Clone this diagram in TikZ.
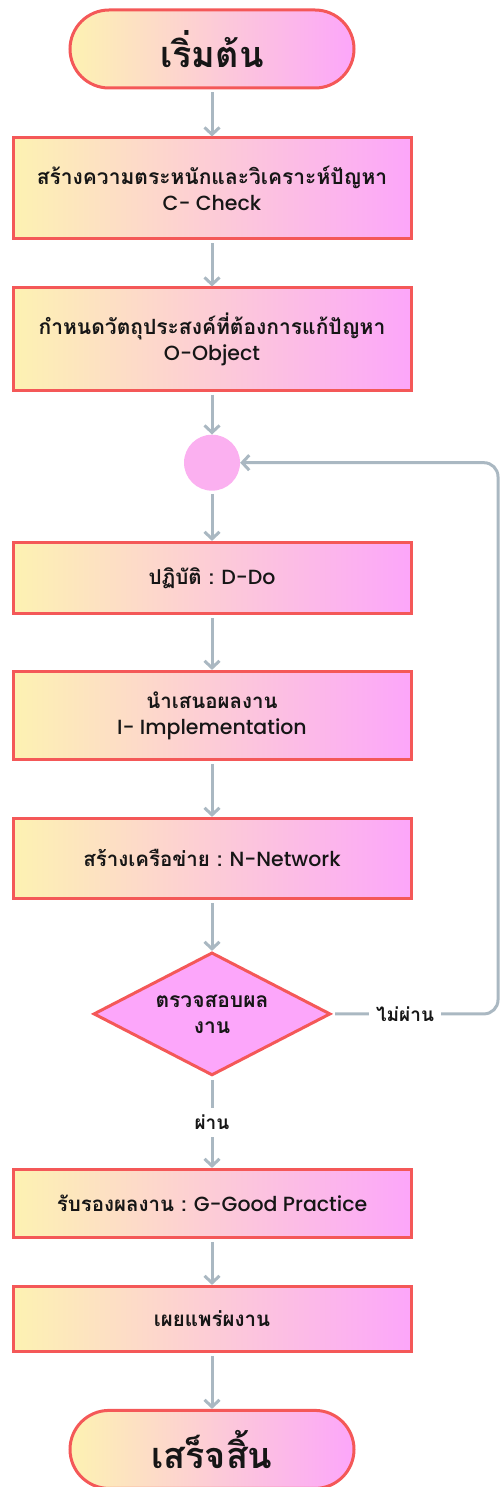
\documentclass[tikz,border=0pt]{standalone}
\usepackage{fontspec}
\setmainfont{Poppins Medium}
\newfontfamily\thaifont[Script=Thai]{Loma}
\usetikzlibrary{positioning, arrows.meta, shapes.geometric}
\definecolor{borderRed}{RGB}{244,88,88}
\definecolor{fillYellow}{RGB}{253,242,178}
\definecolor{fillPink}{RGB}{252,166,250}
\definecolor{joinPink}{RGB}{251,176,240}
\definecolor{arrowGray}{RGB}{170,184,194}
\definecolor{inkBlack}{RGB}{22,22,22}
\newcommand{\tb}[1]{{\thaifont\bfseries #1}}

\begin{document}
\begin{tikzpicture}
        [
        x=1pt, y=1pt,
        node distance=47pt,
            terminalBox/.style={
                rectangle,
                rounded corners=39pt,
                draw=borderRed,
                line width=3pt,
                left color=fillYellow,
                right color=fillPink,
                minimum width=284pt,
                minimum height=78pt,
                text=inkBlack,
                font=\thaifont\bfseries\fontsize{36}{40}\selectfont
            },
            stepBox/.style={
                rectangle,
                draw=borderRed,
                line width=3pt,
                left color=fillYellow,
                right color=fillPink,
                minimum width=398pt,
                align=center,
                text=inkBlack,
                font=\fontsize{20.5}{26}\selectfont
            },
            checkBox/.style={
                diamond,
                aspect=2,
                inner sep=0pt,
                draw=borderRed,
                line width=3pt,
                fill=fillPink,
                minimum width=237pt,
                minimum height=123pt,
                align=center,
                text=inkBlack,
                font=\thaifont\bfseries\fontsize{21}{26}\selectfont
            },
            joinDot/.style={
                circle,
                fill=joinPink,
                inner sep=0pt,
                minimum size=56pt
            },
            flowArrow/.style={
                -{Straight Barb[length=7pt,width=15pt]},
                line width=3pt,
                draw=arrowGray,
                shorten <=3pt
            },
            flowLabel/.style={
                fill=white,
                inner sep=7pt,
                text=inkBlack,
                font=\thaifont\bfseries\fontsize{19}{22}\selectfont
            }
        ]
        \useasboundingbox (0,0) rectangle (500,-1487);

        \node(start) [terminalBox] at (212,-49) {เริ่มต้น};
        \node(check) [stepBox, minimum height=101pt, below=of start] {\tb{\fontsize{21}{26}\selectfont สร้างความตระหนักและวิเคราะห์ปัญหา}\\C- Check};
        \node(object) [stepBox, minimum height=102pt, below=46pt of check] {\tb{\fontsize{21}{26}\selectfont กำหนดวัตถุประสงค์ที่ต้องการแก้ปัญหา}\\O-Object};
        \node(join) [joinDot, below=43pt of object] {};
        \node(do) [stepBox, minimum height=71pt, below=50pt of join] {\tb{ปฏิบัติ :} D-Do};
        \node(implement) [stepBox, minimum height=88pt, below=55pt of do] {\tb{นำเสนอผลงาน}\\I- Implementation};
        \node(network) [stepBox, minimum height=80pt, below=56pt of implement] {\tb{สร้างเครือข่าย :} N-Network};
        \node(review) [checkBox, below=51pt of network] {ตรวจสอบผล\\งาน};
        \node(good) [stepBox, minimum height=68pt, below=91pt of review] {\tb{รับรองผลงาน :} G-Good Practice};
        \node(spread) [stepBox, minimum height=65pt, below=46pt of good] {\tb{เผยแพร่ผงาน}};
        \node(finish) [terminalBox, below=56pt of spread] {เสร็จสิ้น};
        \coordinate(rightEdge) at (498,0);

        \draw[flowArrow] (start)--(check);
        \draw[flowArrow] (check)--(object);
        \draw[flowArrow] (object)--(join);
        \draw[flowArrow] (join)--(do);
        \draw[flowArrow] (do)--(implement);
        \draw[flowArrow] (implement)--(network);
        \draw[flowArrow] (network)--(review);
        \draw[flowArrow] (review)-- node[flowLabel]{ผ่าน} (good);
        \draw[flowArrow] (good)--(spread);
        \draw[flowArrow] (spread)--(finish);
        \draw[flowArrow, rounded corners=14pt] (review.east)-- node[flowLabel, pos=0.44]{ไม่ผ่าน} (review.east -| rightEdge) |- (join.east);
    \end{tikzpicture}
\end{document}
